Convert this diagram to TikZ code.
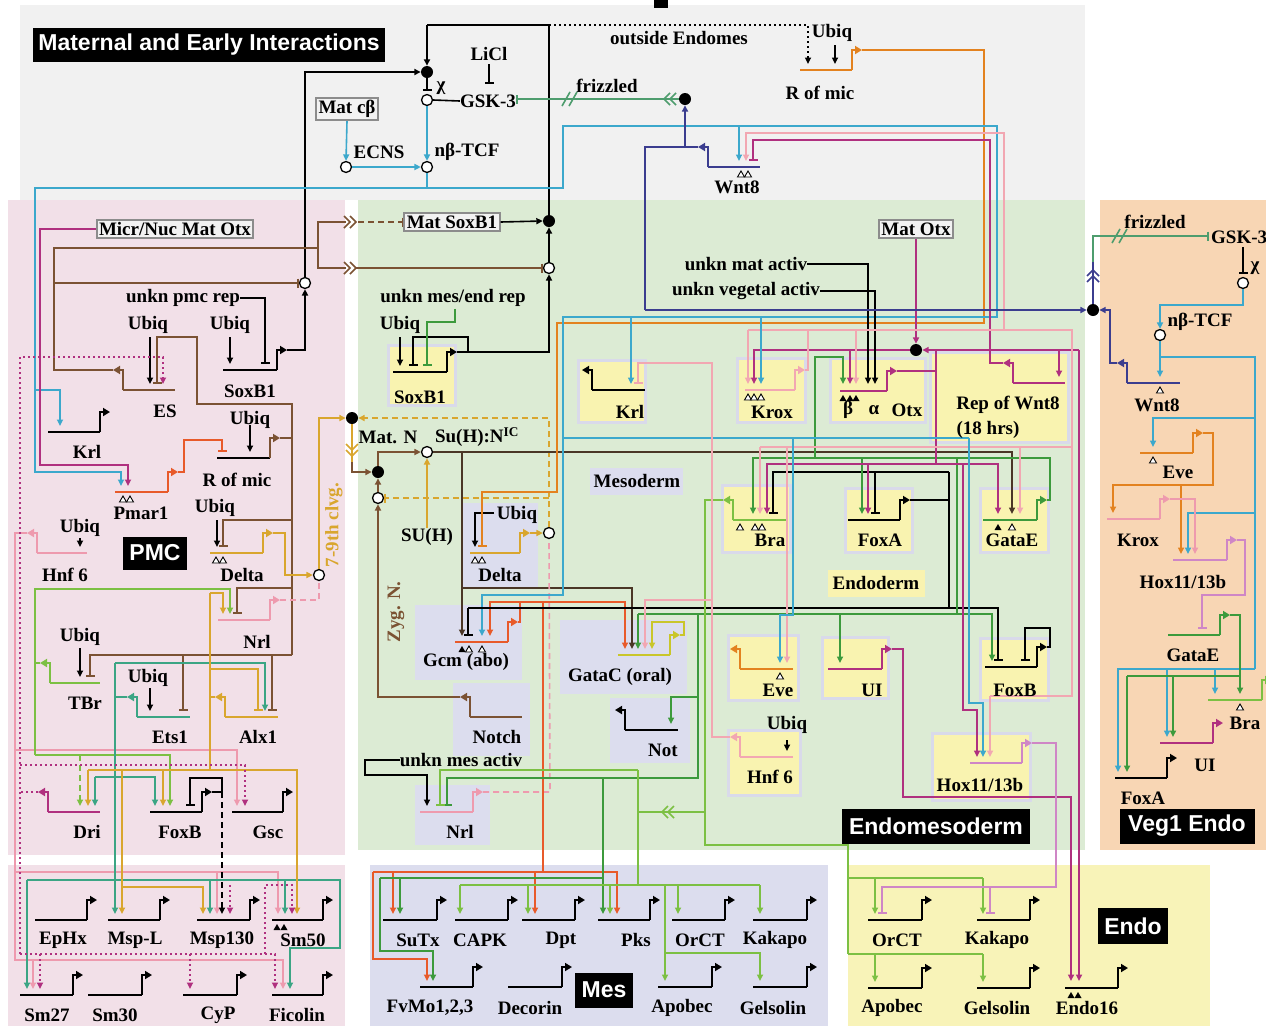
\documentclass[tikz,border=0pt]{standalone}
\usepackage{fontspec}
\setmainfont{Liberation Serif}
\setsansfont{Liberation Sans}
\usetikzlibrary{arrows.meta}
\definecolor{bgGray}{HTML}{F1F1F1}
\definecolor{bgPink}{HTML}{F2E0E8}
\definecolor{bgGreen}{HTML}{DCEBD4}
\definecolor{bgOrange}{HTML}{F8D6B4}
\definecolor{bgLav}{HTML}{DCDDEE}
\definecolor{bgYel}{HTML}{F8F3B8}
\definecolor{boxYel}{HTML}{F9F3B0}
\definecolor{frLav}{HTML}{D9DAEA}
\definecolor{cCy}{HTML}{3CA8CC}
\definecolor{cNv}{HTML}{3B3D8F}
\definecolor{cMg}{HTML}{B0307F}
\definecolor{cLm}{HTML}{CF86C6}
\definecolor{cLp}{HTML}{F2A7B2}
\definecolor{cPk}{HTML}{EE9AAE}
\definecolor{cBr}{HTML}{7B5233}
\definecolor{cDb}{HTML}{4A3626}
\definecolor{cOr}{HTML}{E3821F}
\definecolor{cRd}{HTML}{E85A2A}
\definecolor{cGd}{HTML}{D9A62E}
\definecolor{cGn}{HTML}{3C9A3C}
\definecolor{cLg}{HTML}{7CC043}
\definecolor{cTl}{HTML}{3BA584}
\definecolor{cFz}{HTML}{4E9D6E}
\definecolor{cYg}{HTML}{C9C62A}
\newcommand\LblFont{\fontsize{19}{21}\selectfont\bfseries}
\newcommand\TtlFont{\sffamily\fontsize{23}{25}\selectfont\bfseries}
% gene: name, x1, x2, y, colour
\newcommand\GeneR[5]{%
  \draw[gl,#5] (#2,#4) -- (#3,#4);
  \draw[gl,#5,-{Triangle[length=7pt,width=8pt]}] (#3,#4) -- (#3,#4-20) -- (#3+10,#4-20);
  \coordinate (#1) at (#3+10,#4-20);}
\newcommand\GeneL[5]{%
  \draw[gl,#5] (#2,#4) -- (#3,#4);
  \draw[gl,#5,-{Triangle[length=7pt,width=8pt]}] (#2,#4) -- (#2,#4-20) -- (#2-10,#4-20);
  \coordinate (#1) at (#2-10,#4-20);}
\newcommand\TriO[2]{\draw[line width=0.9pt,fill=white] (#1-3.5,#2+10) -- (#1,#2+4) -- (#1+3.5,#2+10) -- cycle;}
\newcommand\TriF[2]{\fill (#1-3.5,#2+10) -- (#1,#2+4) -- (#1+3.5,#2+10) -- cycle;}
\begin{document}
\begin{tikzpicture}[x=1pt,y=-1pt,
  w/.style={line width=1.6pt},
  gl/.style={line width=2.4pt},
  act/.style={-{Triangle[length=6.5pt,width=6pt]}},
  rep/.style={-{Bar[width=9pt]}},
  dsh/.style={dash pattern=on 6pt off 4pt},
  dtd/.style={dash pattern=on 2pt off 3pt},
  lab/.style={font=\LblFont,inner sep=0pt},
  ttl/.style={fill=black,text=white,font=\TtlFont,inner sep=0pt},
  mbox/.style={draw=black!45,line width=2pt,fill=white!95!black,font=\LblFont,inner sep=2.5pt},
  dotn/.style={circle,fill=black,minimum size=12pt,inner sep=0pt},
  opn/.style={circle,draw=black,fill=white,line width=1.3pt,minimum size=11pt,inner sep=0pt},
  ybox/.style={fill=boxYel,draw=frLav,line width=3pt},
  lbox/.style={fill=bgLav}]
\useasboundingbox (0,0) rectangle (1266,1026);
\fill[white] (0,0) rectangle (1266,1026);
% ---------------- regions
\fill[bgGray] (20,5) rectangle (1085,200);
\fill[bgPink] (8,200) rectangle (345,855);
\fill[bgGreen] (358,200) rectangle (1085,850);
\fill[bgOrange] (1100,200) rectangle (1266,850);
\fill[bgPink] (8,865) rectangle (345,1026);
\fill[bgLav] (370,865) rectangle (828,1026);
\fill[bgYel] (848,865) rectangle (1210,1026);
\fill[black] (654,0) rectangle (668,8);
% sub boxes
\draw[ybox] (388,345) rectangle (455,405);
\fill[lbox] (463,503) rectangle (538,587);
\fill[lbox] (415,605) rectangle (522,680);
\fill[lbox] (560,620) rectangle (687,694);
\fill[lbox] (610,698) rectangle (690,763);
\fill[lbox] (453,683) rectangle (530,756);
\fill[lbox] (415,785) rectangle (490,845);
\fill[lbox] (590,468) rectangle (683,495);
\draw[ybox] (578,360) rectangle (645,422);
\draw[ybox] (737,358) rectangle (805,422);
\draw[ybox] (830,358) rectangle (925,422);
\draw[ybox] (930,352) rectangle (1068,442);
\draw[ybox] (722,485) rectangle (790,552);
\draw[ybox] (845,488) rectangle (912,552);
\draw[ybox] (980,488) rectangle (1048,552);
\fill[boxYel] (828,570) rectangle (925,597);
\draw[ybox] (728,635) rectangle (798,700);
\draw[ybox] (822,637) rectangle (888,698);
\draw[ybox] (980,638) rectangle (1048,700);
\draw[ybox] (728,730) rectangle (800,795);
\draw[ybox] (932,733) rectangle (1030,800);
% ---------------- named junctions
\node[dotn] (dB) at (427,72) {};
\node[opn] (cG) at (427,100) {};
\node[opn] (cE) at (346,167) {};
\node[opn] (cT) at (427,167) {};
\node[dotn] (dF) at (685,99) {};
\node[dotn] (dS) at (549,221) {};
\node[opn] (cS) at (549,268) {};
\node[opn] (cP) at (305,283) {};
\node[dotn] (dV) at (1093,310) {};
\node[dotn] (dO) at (916,350) {};
\node[dotn] (dN) at (352,418) {};
\node[dotn] (dZ) at (378,472) {};
\node[opn] (cZ) at (378,498) {};
\node[opn] (cH) at (427,452) {};
\node[opn] (cDm) at (549,533) {};
\node[opn] (cDp) at (319,575) {};
\node[opn] (cV1) at (1243,283) {};
\node[opn] (cV2) at (1160,335) {};
% boxes with text used by connectors
\node[mbox] (bMatcb) at (347,109) {Mat cβ};
\node[mbox] (bMicr) at (175,229) {Micr/Nuc Mat Otx};
\node[mbox] (bMatS) at (452,222) {Mat SoxB1};
\node[mbox] (bMatO) at (916,229) {Mat Otx};
\node[lab] (tGSK) at (488,101) {GSK-3};
\node[lab] (tLiCl) at (489,54) {LiCl};
\node[lab] (tUpr) at (183,298) {unkn pmc rep};
\node[lab] (tUmer) at (453,298) {unkn mes/end rep};
\node[lab] (tUma) at (461,760) {unkn mes activ};
\node[lab] (tUmat) at (746,264) {unkn mat activ};
\node[lab] (tUveg) at (746,291) {unkn vegetal activ};
\node[lab] (tSuH) at (427,537) {SU(H)};
% ================= TOP
\draw[w] (dS.north) -- (549,25) -- (427,25);
\draw[w,act] (427,25) -- (dB.north);
\draw[w,dtd,act] (549,25) -- (808,25) -- (808,64);
\draw[w,act] (835,45) -- (835,64);
\draw[w,act] (cP.north) |- (dB.west);
\draw[w,rep] (dB.south) -- (427,91);
\draw[w] (tGSK.west) -- (cG.east);
\node[lab] at (441,88) {χ};
\draw[w,rep] (489,64) -- (489,84);
\draw[w,cFz,rep] (dF.west) -- (tGSK.east |- dF.west);
\draw[w,cFz] (670,93) -- (664,99) -- (670,105) (676,93) -- (670,99) -- (676,105);
\draw[w,cFz] (562,106) -- (570,92) (569,106) -- (577,92);
\draw[w,cCy,act] (bMatcb.south) -- (cE.north);
\draw[w,cCy,act] (cE.east) -- (cT.west);
\draw[w,cCy,act] (cG.south) -- (cT.north);
% ================= PMC
\draw[w,cCy,act] (cT.south) -- (427,188) -- (35,188) -- (35,472) -- (121,472) -- (121,486);
\draw[w,cCy,act] (35,390) -- (60,390) -- (60,426);
\draw[w,cMg,act] (bMicr.west) -- (40,229) -- (40,465) -- (128,465) -- (128,486);
\GeneL{esT}{123}{175}{390}{cBr}
\draw[w,cBr] (esT) -- (54,370) -- (54,248) -- (318,248) -- (318,222) -- (346,222);
\draw[w,cBr] (344,216) -- (350,222) -- (344,228) (350,216) -- (356,222) -- (350,228);
\draw[w,cBr,dsh,rep] (358,222) -- (bMatS.west);
\draw[w,cBr] (318,248) -- (318,268) -- (346,268);
\draw[w,cBr] (344,262) -- (350,268) -- (344,274) (350,262) -- (356,268) -- (350,274);
\draw[w,cBr,rep] (356,268) -- (cS.west);
\draw[w,cBr,rep] (54,283) -- (cP.west);
\GeneR{sxpT}{223}{277}{370}{black}
\draw[w,act] (sxpT) -- (305,350) -- (cP.south);
\draw[w,act] (230,337) -- (230,364);
\draw[w,rep] (tUpr.east) -- (265,298) -- (265,364);
\draw[w,act] (150,337) -- (150,384);
% R of mic (PMC)
\draw[gl] (217,458) -- (270,458);
\draw[gl,cBr,-{Triangle[length=7pt,width=8pt]}] (270,458) -- (270,438) -- (280,438);
\coordinate (romT) at (280,438);
\draw[w,cBr] (romT) -- (292,438);
\draw[w,cBr,rep] (292,655) -- (292,404) -- (197,404) -- (197,337) -- (157,337) -- (157,384);
\draw[w,cBr,rep] (292,655) -- (90,655) -- (90,677);
\draw[w,cBr,rep] (292,588) -- (237,588) -- (237,614);
\draw[w,cBr,rep] (292,520) -- (223,520) -- (223,547);
\draw[w,cBr,rep] (183,655) -- (183,711);
\draw[w,cBr,rep] (272,655) -- (272,711);
\draw[w,act] (250,425) -- (250,452);
\GeneR{pmT}{115}{168}{492}{cRd}
\draw[w,cRd,rep] (pmT) -- (184,472) -- (184,440) -- (222,440) -- (222,452);
\TriO{123}{492}\TriO{130}{492}
\GeneR{krpT}{48}{100}{432}{black}
\GeneL{hnpT}{37}{87}{553}{cPk}
\draw[w,cPk,act] (hnpT) -- (15,533) -- (15,960) -- (283,960) -- (283,989);
\draw[w,cPk,act] (33,960) -- (33,989);
\draw[w,cPk,act] (15,750) -- (237,750) -- (237,806);
\draw[w,cPk,act] (15,872) -- (278,872) -- (278,914);
\draw[w,cPk,act] (217,872) -- (217,914);
\draw[w,act] (80,538) -- (80,547);
\GeneR{dpT}{210}{263}{553}{cGd}
\draw[w,cGd,act] (dpT) -- (285,533) -- (285,575) -- (cDp.west);
\draw[w,cGd,act] (cDp.north) -- (319,418) -- (dN.west);
\draw[w,act] (217,520) -- (217,547);
\TriO{216}{553}\TriO{223}{553}
\GeneR{npT}{218}{270}{620}{cPk}
\draw[w,cPk,dsh] (npT) -- (319,600) -- (cDp.south);
\GeneL{tbT}{50}{100}{683}{cLg}
\draw[w,cLg] (tbT) -- (35,663);
\draw[w,cLg,act] (35,755) -- (35,589) -- (230,589) -- (230,614);
\draw[w,cLg,act] (35,755) -- (170,755) -- (170,806);
\draw[w,cLg,dsh,act] (80,755) -- (80,806);
\draw[w,act] (80,648) -- (80,677);
\GeneL{etT}{137}{190}{717}{cTl}
\draw[w,cTl] (etT) -- (115,697);
\draw[w,cTl,act] (115,663) -- (265,663) -- (265,711);
\draw[w,cTl,act] (115,663) -- (115,914);
\draw[w,cTl,act] (95,777) -- (155,777) -- (155,806);
\draw[w,cTl,act] (95,777) -- (95,806);
\draw[w,cTl,act] (27,880) -- (340,880) -- (340,948) -- (290,948) -- (290,989);
\draw[w,cTl,act] (27,880) -- (27,989);
\draw[w,cTl,act] (210,880) -- (210,914);
\draw[w,cTl,act] (285,880) -- (285,914);
\draw[w,act] (150,688) -- (150,711);
\GeneL{axT}{225}{278}{717}{cGd}
\draw[w,cGd] (axT) -- (210,697);
\draw[w,cGd] (210,593) -- (210,770);
\draw[w,cGd,act] (210,593) -- (223,593) -- (223,614);
\draw[w,cGd,rep] (210,669) -- (258,669) -- (258,711);
\draw[w,cGd,act] (88,770) -- (297,770) -- (297,914);
\draw[w,cGd,act] (88,770) -- (88,806);
\draw[w,cGd,act] (163,770) -- (163,806);
\draw[w,cGd,act] (122,770) -- (122,914);
\draw[w,cGd,act] (122,887) -- (203,887) -- (203,914);
\GeneL{drT}{48}{100}{812}{cMg}
\draw[w,cMg,dtd] (drT) -- (20,792);
\draw[w,cMg,dtd,act] (20,954) -- (20,357) -- (163,357) -- (163,384);
\draw[w,cMg,dtd,act] (20,765) -- (245,765) -- (245,806);
\draw[w,cMg,dtd,act] (20,954) -- (275,954) -- (275,989);
\draw[w,cMg,dtd,act] (40,954) -- (40,989);
\draw[w,cMg,dtd,act] (190,954) -- (190,989);
\draw[w,cMg,dtd,act] (265,954) -- (265,885) -- (292,885) -- (292,914);
\draw[w,cMg,dtd,act] (230,885) -- (230,914);
\GeneR{fpT}{150}{202}{812}{black}
\draw[w,rep] (fpT) -- (222,792) -- (222,778) -- (190,778) -- (190,806);
\draw[w,dsh,act] (222,792) -- (222,914);
\GeneR{gsT}{232}{283}{812}{black}
% PMC targets
\GeneR{g1}{35}{87}{920}{black}
\GeneR{g2}{108}{160}{920}{black}
\GeneR{g3}{197}{250}{920}{black}
\GeneR{g4}{272}{323}{920}{black}
\TriF{277}{920}\TriF{284}{920}
\GeneR{g5}{20}{73}{995}{black}
\GeneR{g6}{88}{142}{995}{black}
\GeneR{g7}{183}{237}{995}{black}
\GeneR{g8}{272}{323}{995}{black}
% ================= ENDOMESODERM
\draw[w,act] (bMatS.east) -- (dS.west);
\draw[w,act] (cS.north) -- (dS.south);
\GeneR{smT}{393}{447}{372}{black}
\draw[w,act] (smT) -- (549,352) -- (cS.south);
\draw[w,act] (400,337) -- (400,366);
\draw[w,rep] (468,352) -- (468,337) -- (413,337) -- (413,366);
\draw[w,cGn,rep] (tUmer.south) ++(2,2) -- (455,322) -- (427,322) -- (427,366);
\draw[w,cGd,dsh,act] (cDm.north) -- (549,418) -- (dN.east);
\draw[w,cGd] (dN.south) -- (352,462);
\draw[w,cGd] (346,444) -- (352,450) -- (358,444) (346,450) -- (352,456) -- (358,450);
\draw[w,cBr,act] (352,462) -- (352,472) -- (dZ.west);
\draw[w,cBr,act] (dZ.north) -- (378,452) -- (cH.west);
\draw[w,cBr,act] (cZ.north) -- (dZ.south);
\draw[w,cGd,dsh,rep] (549,498) -- (cZ.east);
\GeneL{ntT}{470}{522}{717}{cBr}
\draw[w,cBr,act] (ntT) -- (378,697) -- (cZ.south);
\draw[w,cGd,act] (tSuH.north) -- (cH.south);
\draw[w,cDb,act] (cH.east) -- (1012,452) -- (1012,514);
\draw[w,cDb,act] (462,452) -- (462,636);
\draw[w,cDb,act] (462,588) -- (632,588) -- (632,649);
\GeneR{dmT}{470}{520}{553}{cGd}
\draw[w,cGd,act] (dmT) -- (cDm.west);
\draw[w,act] (494,513) -- (475,513) -- (475,547);
\TriO{475}{553}\TriO{482}{553}
\draw[w,cOr,rep] (862,50) -- (984,50) -- (984,323) -- (557,323) -- (557,492) -- (482,492) -- (482,547);
\GeneR{romTop}{800}{852}{70}{cOr}
\GeneR{nmT}{420}{473}{812}{cPk}
\draw[w,cPk,dsh] (nmT) -- (550,792) -- (cDm.south);
\draw[w,act] (tUma.west) -- (365,760) -- (365,775) -- (427,775) -- (427,806);
\GeneR{gcT}{455}{508}{642}{cRd}
\draw[w,cRd,act] (gcT) -- (520,622) -- (520,602) -- (490,602) -- (490,636);
\draw[w,cRd,act] (490,602) -- (625,602) -- (625,649);
\draw[w,cRd] (543,602) -- (543,872);
\draw[w,cRd,act] (373,872) -- (617,872) -- (617,914);
\draw[w,cRd,act] (393,872) -- (393,914);
\draw[w,cRd,act] (535,872) -- (535,914);
\draw[w,cRd,act] (373,872) -- (373,959) -- (427,959) -- (427,981);
\draw[w,cCy,act] (427,188) -- (563,188) -- (563,126) -- (997,126) -- (997,317) -- (563,317) -- (563,595) -- (482,595) -- (482,636);
\TriF{462}{642}\TriO{469}{642}\TriO{482}{642}
\draw[w,rep] (468,608) -- (468,636);
\draw[w,rep] (468,608) -- (998,608) -- (998,661);
\GeneR{faT}{848}{900}{520}{black}
\draw[w] (faT) -- (949,500);
\draw[w] (949,472) -- (949,608);
\draw[w,rep] (949,472) -- (773,472) -- (773,514);
\draw[w,rep] (875,472) -- (875,514);
\GeneR{geT}{983}{1037}{520}{cGn}
\draw[w,cGn,act] (geT) -- (1050,500) -- (1050,458) -- (753,458) -- (753,514);
\draw[w,cGn,act] (815,458) -- (815,357) -- (843,357) -- (843,384);
\draw[w,cGn,act] (862,458) -- (862,514);
\draw[w,cGn] (957,458) -- (957,614);
\draw[w,cGn,act] (638,614) -- (992,614) -- (992,661);
\draw[w,cGn,act] (638,614) -- (638,649);
\draw[w,cGn,act] (840,614) -- (840,663);
\draw[w,cGn,rep] (698,614) -- (698,778) -- (447,778) -- (447,806);
\draw[w,cGn,act] (698,697) -- (671,697) -- (671,724);
\draw[w,cGn] (603,778) -- (603,878);
\draw[w,cGn,act] (380,878) -- (603,878) -- (603,914);
\draw[w,cGn,act] (400,878) -- (400,914);
\draw[w,cGn,act] (380,878) -- (380,951) -- (433,951) -- (433,981);
\TriF{998}{520}\TriO{1012}{520}
\GeneL{brT}{733}{787}{520}{cLg}
\draw[w,cLg] (brT) -- (705,500) -- (705,845) -- (848,845) -- (848,954);
\draw[w,cLg] (705,812) -- (638,812);
\draw[w,cLg] (668,806) -- (662,812) -- (668,818) (674,806) -- (668,812) -- (674,818);
\draw[w,cLg] (638,770) -- (638,885);
\draw[w,cLg,rep] (638,770) -- (440,770) -- (440,806);
\draw[w,cLg] (460,885) -- (760,885);
\foreach \xx in {460,528,610,678,760} {\draw[w,cLg,act] (\xx,885) -- (\xx,914);}
\draw[w,cLg,act] (665,885) -- (665,981);
\draw[w,cLg,act] (665,953) -- (760,953) -- (760,981);
\draw[w,cLg] (848,878) -- (983,878);
\draw[w,cLg] (848,954) -- (983,954);
\foreach \xx in {875,983} {\draw[w,cLg,act] (\xx,878) -- (\xx,914); \draw[w,cLg,act] (\xx,954) -- (\xx,982);}
\TriO{740}{520}\TriO{755}{520}\TriO{762}{520}
% Otx circuit
\draw[w,cMg,act] (bMatO.south) -- (dO.north);
\draw[w,cMg,act] (dO.west) -- (754,350) -- (754,384);
\draw[w,cMg,act] (850,350) -- (850,384);
\GeneR{otT}{840}{887}{391}{cMg}
\draw[w,cMg] (otT) -- (936,371) -- (936,350);
\draw[w,cMg,act] (1079,350) -- (dO.east);
\draw[w,cMg,act] (1079,350) -- (1079,981);
\draw[w,cMg,act] (1059,350) -- (1059,377);
\draw[w,cMg] (936,371) -- (936,464);
\draw[w,cMg,act] (936,464) -- (767,464) -- (767,514);
\draw[w,cMg,act] (868,464) -- (868,514);
\draw[w,cMg,act] (936,464) -- (998,464) -- (998,514);
\draw[w,cMg,act] (963,464) -- (963,710) -- (977,710) -- (977,757);
\draw[w,act] (tUmat.east) -- (868,264) -- (868,384);
\draw[w,act] (tUveg.east) -- (875,291) -- (875,384);
\TriF{843}{391}\TriF{850}{391}\TriF{856}{391}
\GeneL{rwT}{1013}{1065}{383}{cMg}
\draw[w,cMg,rep] (rwT) -- (990,363) -- (990,140) -- (753,140) -- (753,161);
% light pink (Krox)
\draw[w,cLp,act] (1004,330) -- (1004,133) -- (746,133) -- (746,161);
\GeneR{kxT}{745}{795}{390}{cLp}
\draw[w,cLp] (kxT) -- (808,370) -- (808,330);
\draw[w,cLp] (748,330) -- (1072,330) -- (1072,696) -- (990,696);
\draw[w,cLp,act] (990,696) -- (990,757);
\draw[w,cLp,act] (748,330) -- (748,384);
\draw[w,cLp,act] (856,330) -- (856,384);
\draw[w,cLp] (760,447) -- (1072,447);
\draw[w,cLp,act] (760,447) -- (760,514);
\draw[w,cLp,act] (1020,447) -- (1020,514);
\draw[w,cLp,act] (787,447) -- (787,663);
\TriO{748}{390}\TriO{754}{390}\TriO{761}{390}
% cyan in endomesoderm
\draw[w,cCy,act] (739,126) -- (739,161);
\draw[w,cCy,act] (631,317) -- (631,384);
\draw[w,cCy,act] (761,317) -- (761,384);
\draw[w,cCy] (563,438) -- (969,438);
\draw[w,cCy,act] (793,438) -- (793,615) -- (780,615) -- (780,663);
\draw[w,cCy,act] (969,438) -- (969,703) -- (983,703) -- (983,757);
% navy Wnt8
\GeneL{wntT}{708}{760}{167}{cNv}
\draw[w,cNv,act] (685,147) -- (dF.south);
\draw[w,cNv] (wntT) -- (645,147) -- (645,310);
\draw[w,cNv,act] (645,310) -- (dV.west);
\TriO{741}{167}\TriO{748}{167}
% Hnf6 endo, Krl, GataC, Not, Eve, UI, FoxB, Hox
\GeneL{heT}{740}{793}{757}{cLp}
\draw[w,cLp,rep] (heT) -- (712,737) -- (712,363) -- (638,363) -- (638,384);
\draw[w,cLp,act] (712,600) -- (645,600) -- (645,649);
\draw[w,act] (787,740) -- (787,751);
\GeneL{keT}{592}{645}{390}{black}
\GeneR{gaT}{618}{670}{655}{cYg}
\draw[w,cYg,act] (gaT) -- (684,635) -- (684,622) -- (652,622) -- (652,649);
\GeneL{noT}{625}{678}{730}{black}
\GeneL{evT}{740}{793}{669}{cOr}
\TriO{780}{669}
\GeneR{uiT}{828}{882}{669}{cMg}
\draw[w,cMg,act] (uiT) -- (903,649) -- (903,797) -- (1071,797) -- (1071,981);
\GeneR{feT}{985}{1037}{667}{black}
\draw[w,rep] (feT) -- (1050,647) -- (1050,628) -- (1025,628) -- (1025,661);
\GeneR{hxT}{970}{1022}{763}{cLm}
\draw[w,cLm,rep] (hxT) -- (1056,743) -- (1056,887) -- (882,887) -- (882,914);
\draw[w,cLm,rep] (990,887) -- (990,914);
% Mes targets
\GeneR{m1}{383}{437}{920}{black}
\GeneR{m2}{455}{508}{920}{black}
\GeneR{m3}{522}{575}{920}{black}
\GeneR{m4}{598}{650}{920}{black}
\GeneR{m5}{672}{725}{920}{black}
\GeneR{m6}{753}{807}{920}{black}
\GeneR{m7}{420}{473}{987}{black}
\GeneR{m8}{508}{562}{987}{black}
\GeneR{m9}{658}{712}{987}{black}
\GeneR{m10}{753}{807}{987}{black}
% Endo targets
\GeneR{e1}{868}{922}{920}{black}
\GeneR{e2}{977}{1030}{920}{black}
\GeneR{e3}{868}{922}{988}{black}
\GeneR{e4}{977}{1030}{988}{black}
\GeneR{e5}{1065}{1118}{988}{black}
\TriF{1071}{988}\TriF{1078}{988}
% ================= VEG1
\draw[w,cNv] (dV.north) -- (1093,262);
\draw[w,cNv] (1087,276) -- (1093,270) -- (1099,276) (1087,282) -- (1093,276) -- (1099,282);
\draw[w,cFz,rep] (1093,262) -- (1093,236) -- (1209,236);
\draw[w,cFz] (1112,243) -- (1120,229) (1119,243) -- (1127,229);
\draw[w,rep] (1243,247) -- (1243,274);
\node[lab] at (1255,268) {χ};
\draw[w,cCy,act] (cV1.south) -- (1243,305) -- (1160,305) -- (cV2.north);
\draw[w,cCy,act] (cV2.south) -- (1160,377);
\draw[w,cCy] (1160,357) -- (1255,357) -- (1255,669);
\draw[w,cCy,act] (1255,669) -- (1118,669) -- (1118,772);
\draw[w,cCy,act] (1255,418) -- (1153,418) -- (1153,447);
\draw[w,cCy,act] (1255,513) -- (1188,513) -- (1188,554);
\draw[w,cCy,act] (1167,669) -- (1167,737);
\draw[w,cCy,act] (1215,669) -- (1215,694);
\GeneL{wvT}{1127}{1180}{383}{cNv}
\draw[w,cNv,act] (wvT) -- (1110,363) -- (1110,310) -- (dV.east);
\TriO{1160}{383}
\GeneR{evvT}{1140}{1193}{453}{cOr}
\draw[w,cOr,act] (evvT) -- (1213,433) -- (1213,485) -- (1113,485) -- (1113,513);
\draw[w,cOr,act] (1181,485) -- (1181,554);
\TriO{1153}{453}
\GeneR{kvT}{1107}{1160}{519}{cPk}
\draw[w,cPk,act] (kvT) -- (1195,499) -- (1195,554);
\GeneR{hvT}{1173}{1227}{560}{cLm}
\draw[w,cLm,rep] (hvT) -- (1245,540) -- (1245,595) -- (1202,595) -- (1202,629);
\GeneR{gvT}{1168}{1220}{635}{cGn}
\draw[w,cGn,act] (gvT) -- (1240,615) -- (1240,694);
\draw[w,cGn] (1127,676) -- (1240,676);
\draw[w,cGn,act] (1127,676) -- (1127,772);
\draw[w,cGn,act] (1173,676) -- (1173,737);
\GeneR{bvT}{1208}{1262}{700}{cLg}
\TriO{1240}{700}
\GeneR{uvT}{1160}{1213}{743}{cMg}
\GeneR{fvT}{1115}{1167}{778}{black}
% ================= titles
\node[ttl,minimum width=352pt,minimum height=34pt] (tMat) at (209,45) {Maternal and Early Interactions};
\node[ttl,minimum width=64pt,minimum height=33pt] (tPMC) at (155,553) {PMC};
\node[ttl,minimum width=188pt,minimum height=35pt] (tEM) at (936,826) {Endomesoderm};
\node[ttl,minimum width=135pt,minimum height=35pt] (tVE) at (1187,826) {Veg1 Endo};
\node[ttl,minimum width=58pt,minimum height=35pt] (tMes) at (604,990) {Mes};
\node[ttl,minimum width=70pt,minimum height=36pt] (tEndo) at (1133,926) {Endo};
% ================= labels
\node[lab] at (679,38) {outside Endomes};
\node[lab] at (607,86) {frizzled};
\node[lab] at (379,152) {ECNS};
\node[lab] at (467,152) {nβ-TCF};
\node[lab] at (832,33) {Ubiq};
\node[lab] at (820,93) {R of mic};
\node[lab] at (737,187) {Wnt8};
% PMC
\node[lab] at (148,325) {Ubiq};
\node[lab] at (230,325) {Ubiq};
\node[lab] at (165,411) {ES};
\node[lab] at (250,391) {SoxB1};
\node[lab] at (250,420) {Ubiq};
\node[lab] at (87,452) {Krl};
\node[lab] at (237,480) {R of mic};
\node[lab] at (141,513) {Pmar1};
\node[lab] at (215,508) {Ubiq};
\node[lab] at (80,528) {Ubiq};
\node[lab] at (65,575) {Hnf 6};
\node[lab] at (242,575) {Delta};
\node[lab] at (257,642) {Nrl};
\node[lab] at (80,637) {Ubiq};
\node[lab] at (148,678) {Ubiq};
\node[lab] at (85,703) {TBr};
\node[lab] at (170,737) {Ets1};
\node[lab] at (258,737) {Alx1};
\node[lab] at (87,832) {Dri};
\node[lab] at (180,832) {FoxB};
\node[lab] at (268,832) {Gsc};
\node[lab,text=cGd,rotate=90] at (334,525) {7-9th clvg.};
\node[lab] at (63,940) {EpHx};
\node[lab] at (135,940) {Msp-L};
\node[lab] at (222,940) {Msp130};
\node[lab] at (303,940) {Sm50};
\node[lab] at (47,1015) {Sm27};
\node[lab] at (115,1015) {Sm30};
\node[lab] at (218,1015) {CyP};
\node[lab] at (297,1015) {Ficolin};
% endomesoderm
\node[lab] at (400,325) {Ubiq};
\node[lab] at (420,397) {SoxB1};
\node[lab] at (388,437) {Mat. N};
\node[lab] at (477,437) {Su(H):N\textsuperscript{IC}};
\node[lab] at (637,481) {Mesoderm};
\node[lab] at (517,515) {Ubiq};
\node[lab] at (500,575) {Delta};
\node[lab,text=cBr,rotate=90] at (396,612) {Zyg. N.};
\node[lab] at (466,662) {Gcm (abo)};
\node[lab] at (620,677) {GataC (oral)};
\node[lab] at (497,737) {Notch};
\node[lab] at (663,750) {Not};
\node[lab] at (460,832) {Nrl};
\node[lab] at (630,412) {Krl};
\node[lab] at (772,412) {Krox};
\node[lab] at (848,410) {β};
\node[lab] at (874,410) {α};
\node[lab] at (907,410) {Otx};
\node[lab] at (1008,405) {Rep of Wnt8};
\node[lab] at (988,430) {(18 hrs)};
\node[lab] at (770,540) {Bra};
\node[lab] at (880,540) {FoxA};
\node[lab] at (1012,540) {GataE};
\node[lab] at (876,583) {Endoderm};
\node[lab] at (778,690) {Eve};
\node[lab] at (872,690) {UI};
\node[lab] at (1015,690) {FoxB};
\node[lab] at (787,725) {Ubiq};
\node[lab] at (770,777) {Hnf 6};
\node[lab] at (980,785) {Hox11/13b};
% mes
\node[lab] at (418,940) {SuTx};
\node[lab] at (480,940) {CAPK};
\node[lab] at (561,940) {Dpt};
\node[lab] at (636,940) {Pks};
\node[lab] at (700,940) {OrCT};
\node[lab] at (775,940) {Kakapo};
\node[lab] at (430,1008) {FvMo1,2,3};
\node[lab] at (530,1008) {Decorin};
\node[lab] at (682,1008) {Apobec};
\node[lab] at (773,1008) {Gelsolin};
% endo
\node[lab] at (897,940) {OrCT};
\node[lab] at (997,940) {Kakapo};
\node[lab] at (892,1008) {Apobec};
\node[lab] at (997,1008) {Gelsolin};
\node[lab] at (1087,1008) {Endo16};
% veg1
\node[lab] at (1155,222) {frizzled};
\node[lab,anchor=west] at (1211,237) {GSK-3};
\node[lab] at (1200,322) {nβ-TCF};
\node[lab] at (1157,405) {Wnt8};
\node[lab] at (1178,472) {Eve};
\node[lab] at (1138,540) {Krox};
\node[lab] at (1183,582) {Hox11/13b};
\node[lab] at (1193,655) {GataE};
\node[lab] at (1245,723) {Bra};
\node[lab] at (1205,765) {UI};
\node[lab] at (1143,798) {FoxA};
\end{tikzpicture}
\end{document}
